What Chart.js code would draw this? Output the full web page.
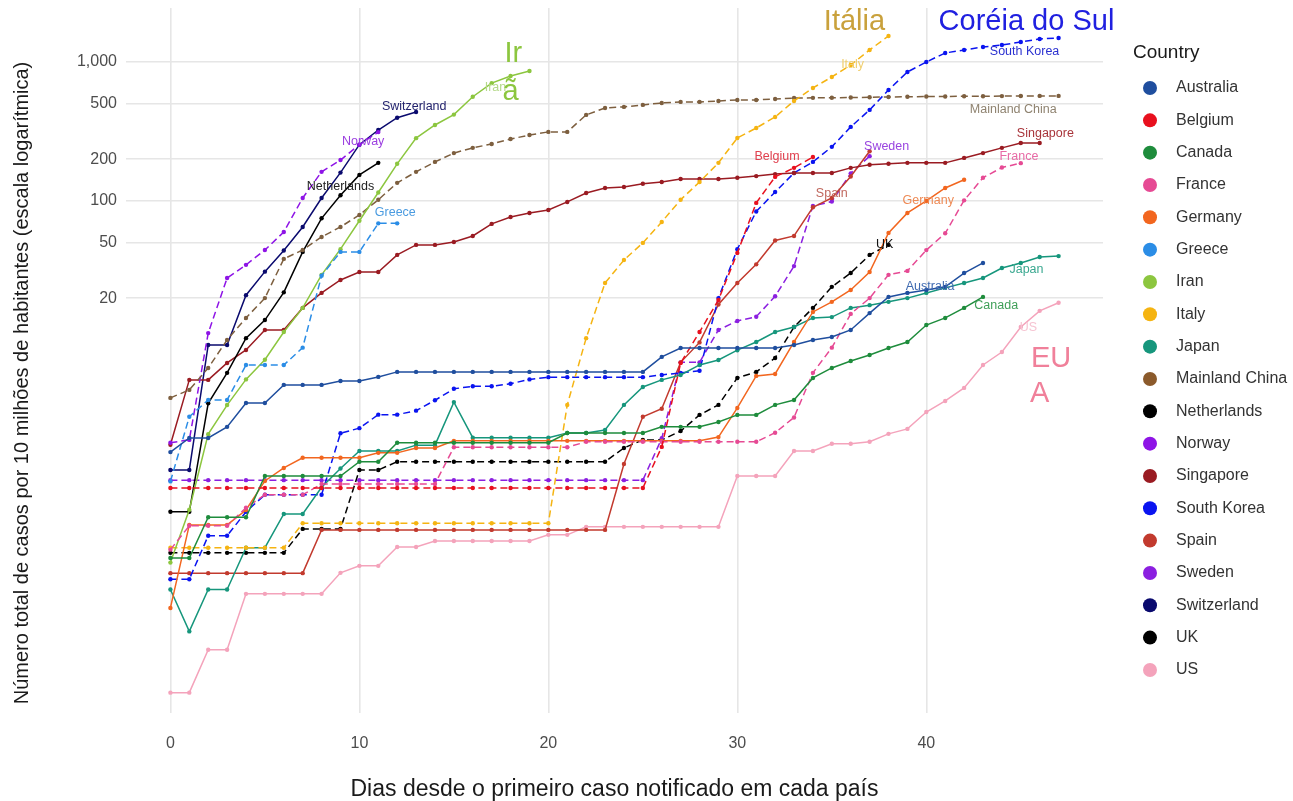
<!DOCTYPE html>
<html>
<head>
<meta charset="utf-8">
<script src="https://cdn.jsdelivr.net/npm/chart.js@4.4.1/dist/chart.umd.min.js"></script>
<style>
  html, body { margin: 0; padding: 0; background: #fff; }
  #wrap { width: 1293px; height: 801px; position: relative; }
</style>
</head>
<body>
<div id="wrap"><canvas id="myChart"></canvas></div>
<script>
// values: cases per 10 million inhabitants, index = days since first case
const countries = ['Australia', 'Belgium', 'Canada', 'France', 'Germany', 'Greece', 'Iran', 'Italy', 'Japan',
  'Mainland China', 'Netherlands', 'Norway', 'Singapore', 'South Korea', 'Spain', 'Sweden', 'Switzerland', 'UK', 'US'];

const australia = [1.56, 1.97, 1.97, 2.37, 3.52, 3.52, 4.75, 4.75, 4.75, 5.07, 5.07, 5.42,
  5.89, 5.89, 5.89, 5.89, 5.89, 5.89, 5.89, 5.89, 5.89, 5.89, 5.89, 5.89, 5.89, 5.89,
  7.55, 8.75, 8.75, 8.75, 8.75, 8.75, 8.75, 9.2, 10.0, 10.5, 11.8, 15.6, 20.4, 21.8, 22.9, 24.1, 30.3, 35.8];
const belgium = [0.86, 0.86, 0.86, 0.86, 0.86, 0.86, 0.86, 0.86, 0.86, 0.86, 0.86, 0.86, 0.86,
  0.86, 0.86, 0.86, 0.86, 0.86, 0.86, 0.86, 0.86, 0.86, 0.86, 0.86, 0.86, 0.86,
  1.70, 6.83, 11.4, 19.4, 42.3, 96.8, 149, 173, 207];
const canada = [0.27, 0.27, 0.53, 0.53, 0.53, 1.05, 1.05, 1.05, 1.05, 1.05, 1.33, 1.33,
  1.82, 1.82, 1.82, 1.82, 1.82, 1.82, 1.82, 1.82, 1.82, 2.14, 2.14, 2.14, 2.14, 2.14, 2.37, 2.37, 2.37,
  2.57, 2.89, 2.89, 3.41, 3.70, 5.33, 6.29, 7.06, 7.80, 8.75, 9.67, 12.8, 14.4, 17.0, 20.4];
const france = [0.31, 0.46, 0.46, 0.46, 0.62, 0.77, 0.77, 0.77,
  0.92, 0.92, 0.92, 0.92, 0.92, 0.92, 0.92, 1.69, 1.69, 1.69, 1.69, 1.69, 1.69, 1.69,
  1.85, 1.85, 1.85, 1.85, 1.85, 1.85, 1.85, 1.85, 1.85, 1.85,
  2.15, 2.77, 5.8, 8.8, 15.4, 20, 29.4, 31.4, 44.3, 58.5, 101, 147, 174, 187];
const germany = [0.118, 0.467, 0.467, 0.467, 0.598, 0.967, 1.20, 1.42, 1.42, 1.42, 1.42, 1.54, 1.54, 1.67, 1.67,
  1.88, 1.88, 1.88, 1.88, 1.88, 1.88, 1.88, 1.88, 1.88, 1.88, 1.88, 1.88, 1.88, 1.88,
  2.0, 3.24, 5.51, 5.69, 9.67, 15.9, 18.8, 22.9, 30.8, 58.9, 82, 100, 124, 142];
const greece = [0.96, 2.8, 3.7, 3.7, 6.6, 6.6, 6.6, 8.8, 29, 43, 43, 69, 69];
const iran = [0.25, 0.6, 2.1, 3.4, 5.2, 7.2, 11.4, 17, 29.4, 45, 72, 115, 185, 283, 352, 418, 562, 704, 792, 861];
const italy = [0.32, 0.32, 0.32, 0.32, 0.32, 0.32, 0.32,
  0.48, 0.48, 0.48, 0.48, 0.48, 0.48, 0.48, 0.48, 0.48, 0.48, 0.48, 0.48, 0.48, 0.48,
  3.41, 10.3, 25.7, 37.6, 49.9, 70.6, 102, 137, 188, 284, 335, 402, 524, 650, 780, 951, 1220, 1538];
const japan = [0.16, 0.08, 0.16, 0.16, 0.32, 0.32, 0.56, 0.56, 0.87, 1.19, 1.59, 1.59, 1.59, 1.75, 1.75, 3.57,
  1.98, 1.98, 1.98, 1.98, 1.98, 2.14, 2.14, 2.25, 3.41, 4.59, 5.16, 5.6, 6.61, 7.18, 8.44, 9.67,
  11.4, 12.4, 14.4, 14.6, 17.0, 17.8, 18.8, 20.0, 21.8, 23.7, 25.7, 27.9, 32.9, 35.8, 39.5, 40.1];
const mainlandChina = [3.83, 4.37, 6.29, 10, 14.4, 20.0, 38.3, 44.4, 55.1, 65.0, 79.3, 102, 135, 162, 191, 221,
  241, 257, 279, 298, 314, 314, 416, 467, 475, 491, 507, 516, 516, 524, 533, 533, 542,
  550, 552, 553, 555, 557, 560, 562, 564, 565, 566, 567, 568, 569, 570, 570];
const netherlands = [0.58, 0.58, 3.5, 5.8, 10.3, 13.9, 22, 43, 75, 110, 154, 188];
const norway = [1.82, 1.91, 11.2, 27.9, 34.7, 44.4, 59.8, 105, 162, 197, 254, 313];
const singapore = [1.76, 5.16, 5.16, 6.83, 8.47, 11.8, 11.8, 17.0, 21.8, 27.0, 30.8, 30.8, 40.9, 48.3, 48.3,
  50.7, 56.0, 68.4, 76.7, 82, 86.1, 98.4, 114, 124, 126, 133, 137, 144, 144, 144, 147, 151, 156,
  159, 159, 159, 173, 182, 185, 188, 188, 188, 204, 221, 241, 261, 261];
const southKorea = [0.19, 0.19, 0.39, 0.39, 0.58, 0.77, 0.77, 0.77, 0.77, 2.13, 2.32, 2.9, 2.9, 3.1, 3.68,
  4.45, 4.64, 4.64, 4.84, 5.2, 5.4, 5.4, 5.4, 5.4, 5.4, 5.4, 5.6, 5.8, 6.0,
  20, 45, 84, 116, 159, 191, 245, 341, 452, 629, 847, 1000, 1161, 1220, 1282, 1325, 1393, 1463, 1489];
const spain = [0.21, 0.21, 0.21, 0.21, 0.21, 0.21, 0.21, 0.21,
  0.43, 0.43, 0.43, 0.43, 0.43, 0.43, 0.43, 0.43, 0.43, 0.43, 0.43, 0.43, 0.43, 0.43, 0.43, 0.43,
  1.28, 2.8, 3.2, 6.9, 9.6, 18, 25.7, 35, 52, 56, 90, 105, 150, 228];
const sweden = [0.98, 0.98, 0.98, 0.98, 0.98, 0.98, 0.98, 0.98, 0.98, 0.98, 0.98, 0.98, 0.98,
  0.98, 0.98, 0.98, 0.98, 0.98, 0.98, 0.98, 0.98, 0.98, 0.98, 0.98, 0.98, 0.98,
  1.96, 6.9, 6.9, 11.8, 13.7, 14.7, 20.6, 34, 92, 99, 158, 210];
const switzerland = [1.16, 1.16, 9.2, 9.2, 21, 31, 44, 65, 105, 160, 254, 324, 397, 436];
const uk = [0.294, 0.294, 0.294, 0.294, 0.294, 0.294, 0.294, 0.437, 0.437, 0.437, 1.16, 1.16,
  1.33, 1.33, 1.33, 1.33, 1.33, 1.33, 1.33, 1.33, 1.33, 1.33, 1.33, 1.33,
  1.67, 1.91, 1.91, 2.21, 2.89, 3.41, 5.33, 5.89, 7.42, 12.4, 17.0, 24.1, 30.3, 40.9, 48.3];
const us = [0.029, 0.029, 0.059, 0.059, 0.149, 0.149, 0.149, 0.149, 0.149, 0.211, 0.237, 0.237, 0.324, 0.324,
  0.358, 0.358, 0.358, 0.358, 0.358, 0.358, 0.396, 0.396,
  0.452, 0.452, 0.452, 0.452, 0.452, 0.452, 0.452, 0.452, 1.05, 1.05, 1.05,
  1.59, 1.59, 1.79, 1.79, 1.85, 2.11, 2.29, 3.03, 3.64, 4.52, 6.61, 8.19, 12.4, 16.2, 18.5];

const yTicks = [20, 50, 100, 200, 500, 1000];
const xTicks = [0, 10, 20, 30, 40];

const seriesValues = [australia, belgium, canada, france, germany, greece, iran, italy, japan,
  mainlandChina, netherlands, norway, singapore, southKorea, spain, sweden, switzerland, uk, us];

const colors = ['#1f4e9e', '#e8101e', '#1e8c3c', '#e64a94', '#f2661f', '#2b8de6', '#8cc63f', '#f5b412', '#16967c',
  '#7d5f3f', '#000000', '#8e14e6', '#9a1b22', '#0a14f0', '#c23a2e', '#8b1fe0', '#0a0a6e', '#000000', '#f4a3bb'];
const dashed = [false, true, false, true, false, true, false, true, false,
  true, false, true, false, true, false, true, false, true, false];

// small in-plot labels (day, value)
const seriesLabels = [
  ['Switzerland', 12.9, 475, '#23236e'], ['Norway', 10.2, 266, '#9b3ee0'], ['Netherlands', 9.0, 126, '#222'],
  ['Greece', 11.9, 83, '#4a9be0'], ['Iran', 17.2, 650, '#b5d98a'], ['Italy', 36.1, 951, '#f0cf70'],
  ['South Korea', 45.2, 1180, '#2a30d0'], ['Mainland China', 44.6, 452, '#8f8370'], ['Singapore', 46.3, 308, '#a8343a'],
  ['Belgium', 32.1, 207, '#e0404e'], ['Sweden', 37.9, 245, '#9a45e0'], ['France', 44.9, 207, '#e86aa6'],
  ['Spain', 35.0, 114, '#c0685e'], ['Germany', 40.1, 100, '#ee8a55'], ['UK', 37.8, 48.2, '#111'],
  ['Australia', 40.2, 24.1, '#3f6ab0'], ['Japan', 45.3, 31.9, '#3aa890'], ['Canada', 43.7, 17.6, '#3f9f58'],
  ['US', 45.4, 12.2, '#f6c4d2']
];
// large annotations (day, value)
const bigLabels = [
  ['Itália', 36.2, 1950, '#c9a13c'], ['Coréia do Sul', 45.3, 1950, '#2020e0'],
  ['Ir', 18.15, 1140, '#8cc63f'], ['ã', 18.0, 610, '#8cc63f'],
  ['EU', 46.6, 7.3, '#f0809a'], ['A', 46.0, 4.1, '#f0809a']
];

const FONT = '"Liberation Sans", Arial, sans-serif';
Chart.defaults.font.family = FONT;

const datasets = countries.map((name, k) => ({
  label: name,
  data: seriesValues[k].map((v, i) => ({ x: i, y: v })),
  borderColor: colors[k],
  backgroundColor: colors[k],
  pointBackgroundColor: colors[k],
  borderWidth: 1.5,
  borderDash: dashed[k] ? [7, 4] : [],
  pointRadius: 2.2,
  pointBorderWidth: 0,
  pointHoverRadius: 0,
  tension: 0,
  fill: false
}));

const textPlugin = {
  id: 'textPlugin',
  afterDatasetsDraw(chart) {
    const ctx = chart.ctx;
    const xs = chart.scales.x, ys = chart.scales.y;
    ctx.save();
    ctx.textAlign = 'center';
    ctx.textBaseline = 'middle';
    ctx.font = '12.5px ' + FONT;
    seriesLabels.forEach(([t, d, v, c]) => {
      ctx.fillStyle = c;
      ctx.fillText(t, xs.getPixelForValue(d), ys.getPixelForValue(v));
    });
    ctx.font = '29px ' + FONT;
    bigLabels.forEach(([t, d, v, c]) => {
      ctx.fillStyle = c;
      ctx.fillText(t, xs.getPixelForValue(d), ys.getPixelForValue(v));
    });
    ctx.restore();
  },
  afterDraw(chart) {
    const ctx = chart.ctx;
    const left = chart.chartArea.right + 30;
    ctx.save();
    // y axis title
    ctx.translate(22, 383);
    ctx.rotate(-Math.PI / 2);
    ctx.textAlign = 'center';
    ctx.textBaseline = 'middle';
    ctx.fillStyle = '#1a1a1a';
    ctx.font = '20px ' + FONT;
    ctx.fillText('Número total de casos por 10 milhões de habitantes (escala logarítmica)', 0, 0);
    ctx.restore();
    // legend
    ctx.save();
    ctx.textAlign = 'left';
    ctx.textBaseline = 'middle';
    ctx.fillStyle = '#1a1a1a';
    ctx.font = '19px ' + FONT;
    ctx.fillText('Country', left, 53);
    ctx.font = '16px ' + FONT;
    countries.forEach((name, i) => {
      const y = 88 + i * 32.33;
      ctx.beginPath();
      ctx.arc(left + 17, y, 7, 0, Math.PI * 2);
      ctx.fillStyle = colors[i] === '#7d5f3f' ? '#8b5a2b' : colors[i];
      ctx.fill();
      ctx.fillStyle = '#333';
      ctx.fillText(name, left + 43, y);
    });
    ctx.restore();
  }
};

const ctx = document.getElementById('myChart');
new Chart(ctx, {
  type: 'line',
  data: { datasets: datasets },
  plugins: [textPlugin],
  options: {
    responsive: true,
    maintainAspectRatio: false,
    animation: false,
    layout: { padding: { top: 8, right: 190, left: 0, bottom: 0 } },
    plugins: { legend: { display: false }, tooltip: { enabled: false } },
    scales: {
      x: {
        type: 'linear',
        min: -2.35,
        max: 49.35,
        afterBuildTicks: s => { s.ticks = xTicks.map(v => ({ value: v })); },
        afterFit: s => { s.height = 88; s.paddingLeft = 0; s.paddingRight = 0; },
        grid: { color: '#e6e6e6', lineWidth: 1.6, drawTicks: false },
        border: { display: false },
        ticks: { padding: 21, color: '#4d4d4d', font: { size: 16 } },
        title: {
          display: true,
          text: 'Dias desde o primeiro caso notificado em cada país',
          color: '#1a1a1a',
          font: { size: 23, lineHeight: 1 },
          padding: { top: 0, bottom: 0 }
        }
      },
      y: {
        type: 'logarithmic',
        min: 0.0207,
        max: 2445,
        afterBuildTicks: s => { s.ticks = yTicks.map(v => ({ value: v })); },
        afterFit: s => { s.width = 126; s.paddingTop = 0; s.paddingBottom = 0; },
        grid: { color: '#e6e6e6', lineWidth: 1.6, drawTicks: false },
        border: { display: false },
        ticks: {
          padding: 9,
          color: '#4d4d4d',
          font: { size: 16 },
          callback: v => Number(v).toLocaleString('en-US')
        }
      }
    }
  }
});
</script>
</body>
</html>
